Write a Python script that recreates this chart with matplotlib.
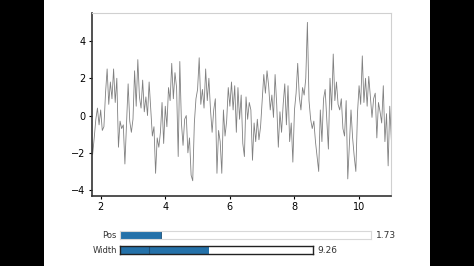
import numpy as np
import matplotlib
matplotlib.use('Agg')
import matplotlib.pyplot as plt
from matplotlib.patches import Rectangle

# signal, one value every 0.05 starting at t=1.70
t_start = 1.70
t_step = 0.05
signal = [
    -0.6, -2.1, -1.2, -0.2, 0.4, -0.5, 0.3, -0.8, -0.6, 1.2,
    2.5, 0.6, 1.8, 0.9, 2.5, 0.7, 2.0, -1.7, -0.3, -0.7,
    -0.5, -2.6, -0.4, 1.7, -0.3, -0.9, -0.2, 2.4, 0.5, 3.0,
    1.0, 0.4, 1.9, 0.2, 1.0, 0.0, 1.8, 0.3, -1.1, -0.6,
    -3.1, -1.2, -1.7, -0.9, 0.7, -1.5, 0.5, -0.6, 1.5, 0.8,
    2.8, 0.9, 2.3, 1.5, -2.2, 2.9, -0.4, -1.6, -0.2, 0.0,
    -2.0, -1.2, -3.2, -3.5, -0.4, 0.9, 1.4, 3.1, 0.6, 1.4,
    0.4, 2.5, 0.8, 2.0, 0.3, -0.9, 0.3, 0.9, -3.1, -0.8,
    -1.4, -3.1, 0.3, -1.1, -0.3, 1.5, 0.5, 1.8, 0.3, 1.6,
    -0.9, 1.5, -0.2, 1.1, -1.5, -2.2, 1.0, -0.2, 0.7, 0.3,
    -2.4, -0.4, -1.4, -0.2, -1.3, -0.6, 0.8, 2.2, 1.2, 2.4,
    1.6, 0.3, 1.1, -0.1, 2.2, 0.6, -1.7, 0.2, -0.9, 0.6,
    1.7, -0.5, 1.6, -1.4, -0.4, -2.5, 0.3, 1.2, 2.8, 1.0,
    0.3, 1.5, 1.1, 2.0, 5.0, 0.8, -0.2, -0.7, -0.3, -1.4,
    -2.2, -3.0, 0.3, -1.4, 0.9, 1.4, -0.2, -1.8, 2.0, 0.3,
    3.3, 0.8, 1.8, 0.6, 0.3, 0.9, -0.7, -1.1, 0.8, -3.4,
    -1.5, 0.3, -1.2, -2.2, -3.0, 0.1, 1.6, 0.6, 3.2, 0.7,
    2.0, 0.5, 2.1, 1.0, -0.1, 0.9, 1.2, -1.2, 0.7, 0.2,
    -0.4, 1.6, -1.4, 0.1, -2.7, 0.5, -1.3,
]

# slider states
pos_val = 1.73
pos_max = 10.6
width_val = 9.26
width_init = 3.0
width_max = 20.0

t = t_start + t_step * np.arange(len(signal))

fig = plt.figure(figsize=(4.74, 2.66), dpi=100, facecolor='black')
# white video frame between the black bars
fig.add_artist(Rectangle((44 / 474, 0), 386 / 474, 1, transform=fig.transFigure,
                         facecolor='white', edgecolor='none', zorder=-10))

ax = fig.add_axes([0.194, 0.263, 0.631, 0.688])
ax.plot(t, signal, color='#808080', lw=0.6)
ax.set_xlim(pos_val, pos_val + width_val)
ax.set_ylim(-4.32, 5.5)
ax.set_xticks([2, 4, 6, 8, 10])
ax.set_yticks([-4, -2, 0, 2, 4])
ax.tick_params(labelsize=7, length=2.5, width=0.8, pad=2)
for s in ['top', 'right']:
    ax.spines[s].set_color('#d0d0d0')
for s in ['left', 'bottom']:
    ax.spines[s].set_color('#333333')
    ax.spines[s].set_linewidth(1.2)

# Pos slider
ax_pos = fig.add_axes([0.253, 0.100, 0.530, 0.032])
ax_pos.barh([0], [pos_val], height=1, color='#2471a9', edgecolor='#1d4f78', lw=0.6)
ax_pos.set_xlim(0, pos_max)
ax_pos.set_ylim(-0.5, 0.5)
ax_pos.set_xticks([])
ax_pos.set_yticks([])
for s in ax_pos.spines.values():
    s.set_color('#d8d8d8')
ax_pos.text(-0.012, 0.5, 'Pos', transform=ax_pos.transAxes, ha='right', va='center',
            fontsize=6, color='#333333')
ax_pos.text(1.02, 0.5, '%.2f' % pos_val, transform=ax_pos.transAxes, ha='left',
            va='center', fontsize=6.5, color='#333333')

# Width slider
ax_w = fig.add_axes([0.253, 0.044, 0.408, 0.032])
ax_w.barh([0], [width_val], height=1, color='#2471a9', edgecolor='none')
ax_w.axvline(width_init, color='#1d4f78', lw=0.8)
ax_w.set_xlim(0, width_max)
ax_w.set_ylim(-0.5, 0.5)
ax_w.set_xticks([])
ax_w.set_yticks([])
for s in ax_w.spines.values():
    s.set_color('#222222')
    s.set_linewidth(1.0)
ax_w.text(-0.012, 0.5, 'Width', transform=ax_w.transAxes, ha='right', va='center',
          fontsize=6, color='#333333')
ax_w.text(1.02, 0.5, '%.2f' % width_val, transform=ax_w.transAxes, ha='left',
          va='center', fontsize=6.5, color='#333333')

fig.savefig('out.png', dpi=100, facecolor=fig.get_facecolor())
